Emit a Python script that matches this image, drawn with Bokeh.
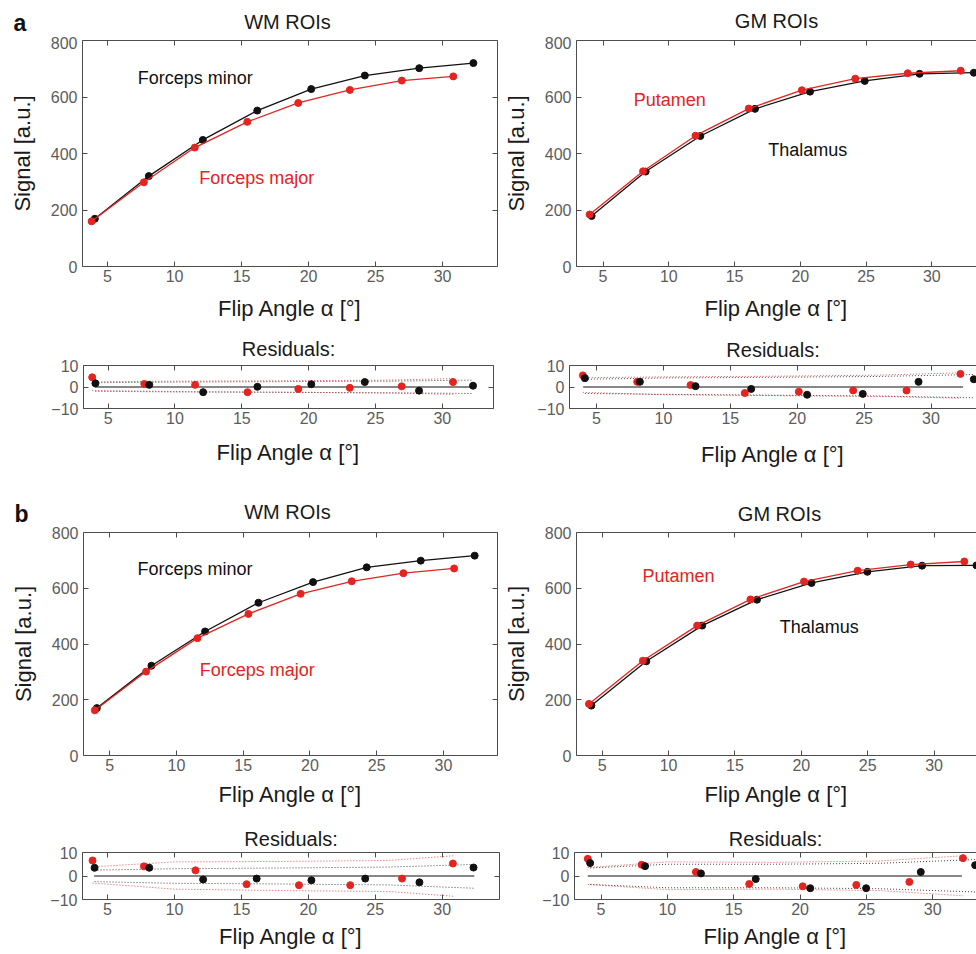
from bokeh.core.properties import value
from bokeh.embed import file_html
from bokeh.layouts import column, row
from bokeh.models import FixedTicker, Label, LinearAxis, Range1d
from bokeh.plotting import figure
from bokeh.resources import INLINE

FONT = "Liberation Sans"
RED = "#e32420"
BLACK = "#111111"
AXIS = "#4d4d4d"
TICK_TXT = "#5c5c5c"
PAGE_W = 976

XLABEL = "Flip Angle α [°]"
YLABEL = "Signal [a.u.]"
X_TICKS = [5, 10, 15, 20, 25, 30]
SIG_TICKS = [0, 200, 400, 600, 800]
RES_TICKS = [-10, 0, 10]

# ---------------- row a : signal curves ----------------
a_minor_fa = [4.05, 8.08, 12.11, 16.17, 20.2, 24.2, 28.26, 32.3]
a_minor_sig = [169, 320, 448, 552, 628, 676, 702, 720]
a_major_fa = [3.81, 7.71, 11.51, 15.43, 19.23, 23.08, 26.96, 30.8]
a_major_sig = [160, 298, 421, 512, 579, 625, 658, 673]
a_put_fa = [3.98, 8.04, 12.03, 16.08, 20.12, 24.18, 28.17, 32.2]
a_put_sig = [184, 337, 463, 559, 624, 665, 684, 693]
a_thal_fa = [4.13, 8.24, 12.4, 16.56, 20.74, 24.9, 29.07, 33.2]
a_thal_sig = [179, 336, 462, 558, 619, 657, 682, 686]

# ---------------- row a : residuals ----------------
a_minor_res = [1.7, 1.0, -2.4, 0.1, 1.3, 2.3, -1.7, 0.6]
a_major_res = [4.5, 1.4, 1.0, -2.4, -0.9, -0.4, 0.3, 2.3]
a_put_res = [5.4, 2.4, 0.9, -2.8, -2.2, -1.6, -1.6, 6.1]
a_thal_res = [4.1, 2.4, 0.4, -0.9, -3.6, -3.2, 2.4, 3.6]

# confidence bands of the residuals (upper / lower)
a_wm_red_band_fa = [3.81, 10, 18, 26, 30.8]
a_wm_red_up = [2.4, 2.7, 2.9, 3.2, 3.9]
a_wm_red_lo = [-1.6, -2.1, -2.4, -2.8, -3.4]
a_wm_blk_band_fa = [4.05, 10, 18, 26, 32.3]
a_wm_blk_up = [2.0, 2.3, 2.5, 2.7, 3.2]
a_wm_blk_lo = [-2.0, -2.3, -2.5, -2.7, -3.0]

a_gm_red_band_fa = [3.98, 10, 18, 26, 32.2]
a_gm_red_up = [4.3, 4.7, 5.0, 5.5, 6.6]
a_gm_red_lo = [-2.5, -3.6, -4.0, -4.4, -5.2]
a_gm_blk_band_fa = [4.13, 10, 18, 26, 33.2]
a_gm_blk_up = [3.6, 4.2, 4.5, 4.9, 5.8]
a_gm_blk_lo = [-3.0, -3.4, -3.8, -4.2, -5.0]

# ---------------- row b : signal curves ----------------
b_minor_fa = [4.03, 8.12, 12.14, 16.14, 20.23, 24.25, 28.3, 32.34]
b_minor_sig = [170, 322, 445, 548, 622, 675, 699, 717]
b_major_fa = [3.88, 7.72, 11.57, 15.39, 19.3, 23.13, 27.0, 30.8]
b_major_sig = [162, 301, 421, 508, 580, 625, 654, 671]
b_put_fa = [4.0, 8.06, 12.15, 16.17, 20.2, 24.24, 28.24, 32.28]
b_put_sig = [185, 340, 466, 560, 624, 663, 685, 696]
b_thal_fa = [4.18, 8.32, 12.53, 16.66, 20.77, 24.98, 29.1, 33.2]
b_thal_sig = [179, 338, 466, 559, 619, 659, 681, 682]

# ---------------- row b : residuals ----------------
b_minor_res = [3.5, 3.5, -1.5, -1.1, -1.8, -1.1, -2.7, 3.6]
b_major_res = [6.6, 4.1, 2.4, -3.5, -3.9, -3.9, -1.1, 5.3]
b_put_res = [7.3, 4.8, 1.7, -3.4, -4.4, -3.8, -2.5, 7.6]
b_thal_res = [5.5, 4.2, 1.1, -1.3, -5.2, -5.2, 1.7, 4.6]

b_wm_red_band_fa = [3.88, 10, 18, 26, 30.8]
b_wm_red_up = [3.9, 6.0, 6.2, 6.6, 8.6]
b_wm_red_lo = [-3.0, -5.6, -6.2, -6.6, -8.6]
b_wm_blk_band_fa = [4.03, 10, 18, 26, 32.34]
b_wm_blk_up = [2.5, 3.1, 3.4, 3.8, 4.9]
b_wm_blk_lo = [-2.4, -3.1, -3.4, -3.8, -5.2]

b_gm_red_band_fa = [4.0, 10, 18, 26, 32.28]
b_gm_red_up = [3.6, 6.0, 5.8, 6.4, 8.6]
b_gm_red_lo = [-3.6, -5.8, -5.6, -6.2, -8.4]
b_gm_blk_band_fa = [4.18, 10, 18, 26, 33.2]
b_gm_blk_up = [3.4, 5.0, 5.0, 5.4, 7.0]
b_gm_blk_lo = [-3.6, -5.0, -5.0, -5.4, -6.8]


def style_axis(ax, labels=True):
    ax.axis_line_color = AXIS
    ax.axis_line_width = 1
    ax.major_tick_line_color = AXIS
    ax.major_tick_in = 5
    ax.major_tick_out = 0
    ax.minor_tick_line_color = None
    ax.major_label_text_font = FONT
    ax.axis_label_text_font = FONT
    ax.axis_label_text_font_style = "normal"
    ax.axis_label_text_font_size = "22px"
    ax.axis_label_text_color = "#1a1a1a"
    if labels:
        ax.major_label_text_font_size = "16px"
        ax.major_label_text_color = TICK_TXT
    else:
        ax.major_label_text_font_size = "1px"
        ax.major_label_text_color = None
        ax.major_label_standoff = 0


def make_panel(width, height, borders, x_range, y_range, y_ticks, xlab_standoff,
               title=None, title_standoff=0, ylabel=None, ylab_standoff=13,
               right_axis=True):
    left, right, top, bottom = borders
    p = figure(width=width, height=height, title=title,
               x_range=Range1d(*x_range), y_range=Range1d(*y_range),
               output_backend="svg", toolbar_location=None,
               min_border_left=left, min_border_right=right,
               min_border_top=top, min_border_bottom=bottom)
    p.outline_line_color = None
    p.grid.visible = False
    p.background_fill_color = "white"
    p.border_fill_color = "white"

    xt = FixedTicker(ticks=X_TICKS, minor_ticks=[])
    yt = FixedTicker(ticks=y_ticks, minor_ticks=[])
    p.xaxis.ticker = xt
    p.yaxis.ticker = yt
    for ax in p.xaxis + p.yaxis:
        style_axis(ax)
    p.xaxis.axis_label = XLABEL
    p.xaxis.major_label_standoff = 3
    p.xaxis.axis_label_standoff = xlab_standoff
    p.yaxis.major_label_standoff = 5
    if ylabel:
        p.yaxis.axis_label = ylabel
        p.yaxis.axis_label_standoff = ylab_standoff

    top_ax = LinearAxis(ticker=xt)
    style_axis(top_ax, labels=False)
    p.add_layout(top_ax, "above")
    if right_axis:
        right_ax = LinearAxis(ticker=yt)
        style_axis(right_ax, labels=False)
        p.add_layout(right_ax, "right")

    if title:
        p.title.align = "center"
        p.title.text_font = FONT
        p.title.text_font_size = "20px"
        p.title.text_font_style = "normal"
        p.title.text_color = "#1a1a1a"
        p.title.standoff = title_standoff
    return p


def header_strip(height, tag, tag_xy, titles):
    # full-width strip carrying the panel letter and the two column titles
    s = figure(width=PAGE_W, height=height, x_range=Range1d(0, PAGE_W),
               y_range=Range1d(0, height), output_backend="svg",
               toolbar_location=None, x_axis_location=None,
               y_axis_location=None, min_border=0)
    s.grid.visible = False
    s.outline_line_color = None
    s.text(x=[tag_xy[0]], y=[height - tag_xy[1]], text=[tag],
           text_font=value(FONT), text_font_size="23px",
           text_font_style="bold", text_color="#111111",
           text_align="left", text_baseline="middle")
    for text, cx, cy in titles:
        s.text(x=[cx], y=[height - cy], text=[text],
               text_font=value(FONT), text_font_size="20px",
               text_color="#1a1a1a", text_align="center",
               text_baseline="middle")
    return s


def add_curve(p, fa, sig, color):
    p.line(fa, sig, line_color=color, line_width=1.3)
    p.scatter(fa, sig, size=7, fill_color=color, line_color=color)


def add_text(p, x, y, text, color):
    p.add_layout(Label(x=x, y=y, text=text, text_color=color,
                       text_font=FONT, text_font_size="18px",
                       text_align="left", text_baseline="middle"))


def add_residuals(p, zero_span, red_fa, red_res, blk_fa, blk_res,
                  red_band_fa, red_up, red_lo, blk_band_fa, blk_up, blk_lo):
    for band in (blk_up, blk_lo):
        p.line(blk_band_fa, band, line_color="#444444", line_width=1,
               line_dash="1 2")
    for band in (red_up, red_lo):
        p.line(red_band_fa, band, line_color=RED, line_width=1,
               line_dash="1 2", line_alpha=0.8)
    p.line(zero_span, [0, 0], line_color=BLACK, line_width=1.2)
    p.scatter(red_fa, red_res, size=7, fill_color=RED, line_color=RED)
    p.scatter(blk_fa, blk_res, size=7, fill_color=BLACK, line_color=BLACK)


# ---------------- row a ----------------
head_a = header_strip(36, "a", (13, 22),
                      [("WM ROIs", 287, 21.7), ("GM ROIs", 776, 20.7)])

wm_a = make_panel(500, 294, (82, 3, 4, 64), (3.13, 34.1), (0, 800), SIG_TICKS,
                  11, ylabel=YLABEL)
add_curve(wm_a, a_minor_fa, a_minor_sig, BLACK)
add_curve(wm_a, a_major_fa, a_major_sig, RED)
add_text(wm_a, 7.25, 669, "Forceps minor", BLACK)
add_text(wm_a, 11.84, 313, "Forceps major", RED)

gm_a = make_panel(476, 294, (69, 0, 4, 63), (2.98, 33.4), (0, 800), SIG_TICKS,
                  11, ylabel=YLABEL, right_axis=False)
add_curve(gm_a, a_thal_fa, a_thal_sig, BLACK)
add_curve(gm_a, a_put_fa, a_put_sig, RED)
add_text(gm_a, 7.34, 590, "Putamen", RED)
add_text(gm_a, 17.56, 414, "Thalamus", BLACK)

wm_a_res = make_panel(500, 145, (83, 7, 32, 66), (3.16, 33.83), (-10, 10),
                      RES_TICKS, 13, title="Residuals:", title_standoff=11)
add_residuals(wm_a_res, [4.0, 32.4], a_major_fa, a_major_res, a_minor_fa,
              a_minor_res, a_wm_red_band_fa, a_wm_red_up, a_wm_red_lo,
              a_wm_blk_band_fa, a_wm_blk_up, a_wm_blk_lo)

gm_a_res = make_panel(476, 145, (69, 0, 29, 67), (2.98, 33.4), (-10, 10),
                      RES_TICKS, 15, title="Residuals:", title_standoff=9,
                      right_axis=False)
add_residuals(gm_a_res, [4.0, 32.4], a_put_fa, a_put_res, a_thal_fa,
              a_thal_res, a_gm_red_band_fa, a_gm_red_up, a_gm_red_lo,
              a_gm_blk_band_fa, a_gm_blk_up, a_gm_blk_lo)

# ---------------- row b ----------------
head_b = header_strip(50, "b", (14, 38),
                      [("WM ROIs", 287, 36.7), ("GM ROIs", 779, 38.5)])

wm_b = make_panel(500, 290, (83, 3, 2, 60), (3.03, 34.05), (0, 800), SIG_TICKS,
                  8, ylabel=YLABEL)
add_curve(wm_b, b_minor_fa, b_minor_sig, BLACK)
add_curve(wm_b, b_major_fa, b_major_sig, RED)
add_text(wm_b, 7.07, 670, "Forceps minor", BLACK)
add_text(wm_b, 11.74, 307, "Forceps major", RED)

gm_b = make_panel(476, 290, (72, 0, 7, 60), (3.06, 33.2), (0, 800), SIG_TICKS,
                  8, ylabel=YLABEL, right_axis=False)
add_curve(gm_b, b_thal_fa, b_thal_sig, BLACK)
add_curve(gm_b, b_put_fa, b_put_sig, RED)
add_text(gm_b, 8.04, 644, "Putamen", RED)
add_text(gm_b, 18.38, 460, "Thalamus", BLACK)

wm_b_res = make_panel(500, 139, (82, 1, 37, 55), (3.13, 34.28), (-10, 10),
                      RES_TICKS, 6, title="Residuals:", title_standoff=5)
add_residuals(wm_b_res, [4.0, 32.4], b_major_fa, b_major_res, b_minor_fa,
              b_minor_res, b_wm_red_band_fa, b_wm_red_up, b_wm_red_lo,
              b_wm_blk_band_fa, b_wm_blk_up, b_wm_blk_lo)

gm_b_res = make_panel(476, 139, (74, 0, 37, 55), (3.0, 33.3), (-10, 10),
                      RES_TICKS, 6, title="Residuals:", title_standoff=5,
                      right_axis=False)
add_residuals(gm_b_res, [4.0, 32.2], b_put_fa, b_put_res, b_thal_fa,
              b_thal_res, b_gm_red_band_fa, b_gm_red_up, b_gm_red_lo,
              b_gm_blk_band_fa, b_gm_blk_up, b_gm_blk_lo)

layout = column(head_a, row(wm_a, gm_a), row(wm_a_res, gm_a_res),
                head_b, row(wm_b, gm_b), row(wm_b_res, gm_b_res))

open("out.html", "w").write(file_html(layout, INLINE))
